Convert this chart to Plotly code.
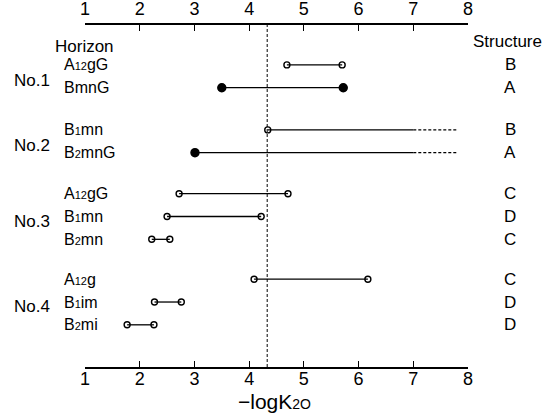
import plotly.graph_objects as go

# Profiles (No.1 - No.4), horizons, range of -logK2O, and soil structure class
profiles = ["No.1", "No.2", "No.3", "No.4"]
horizons = [
    ["A<span style='font-size:11px'>12</span>gG", "BmnG"],
    ["B<span style='font-size:11px'>1</span>mn", "B<span style='font-size:11px'>2</span>mnG"],
    ["A<span style='font-size:11px'>12</span>gG", "B<span style='font-size:11px'>1</span>mn",
     "B<span style='font-size:11px'>2</span>mn"],
    ["A<span style='font-size:11px'>12</span>g", "B<span style='font-size:11px'>1</span>im",
     "B<span style='font-size:11px'>2</span>mi"],
]
low_values = [[4.69, 3.50], [4.34, 3.01], [2.72, 2.50, 2.22], [4.09, 2.27, 1.77]]
high_values = [[5.70, 5.72], [7.8, 7.8], [4.71, 4.22, 2.55], [6.17, 2.76, 2.26]]
# True where the upper end was not reached (open-ended range)
open_ended = [[False, False], [True, True], [False, False, False], [False, False, False]]
low_filled = [[False, True], [False, True], [False, False, False], [False, False, False]]
high_filled = [[False, True], [False, False], [False, False, False], [False, False, False]]
structure = [["B", "A"], ["B", "A"], ["C", "D", "C"], ["C", "D", "D"]]
threshold = 4.33
open_limit = 7.0

x_ticks = [1, 2, 3, 4, 5, 6, 7, 8]

# vertical layout of each profile block (row units, top = 0)
group_top = [1.75, 4.6, 7.4, 11.15]

fig = go.Figure()
annotations = []
FONT = "Liberation Sans, Arial, sans-serif"

for g, name in enumerate(profiles):
    ys = [group_top[g] + i for i in range(len(horizons[g]))]
    for i, y in enumerate(ys):
        lo, hi = low_values[g][i], high_values[g][i]
        if open_ended[g][i]:
            fig.add_trace(go.Scatter(x=[lo, open_limit], y=[y, y], mode="lines",
                                     line=dict(color="black", width=1.3), showlegend=False))
            fig.add_trace(go.Scatter(x=[open_limit, hi], y=[y, y], mode="lines",
                                     line=dict(color="black", width=1.3, dash="3px,2px"),
                                     showlegend=False))
            ends = [(lo, low_filled[g][i])]
        else:
            fig.add_trace(go.Scatter(x=[lo, hi], y=[y, y], mode="lines",
                                     line=dict(color="black", width=1.3), showlegend=False))
            ends = [(lo, low_filled[g][i]), (hi, high_filled[g][i])]
        for xv, filled in ends:
            fig.add_trace(go.Scatter(
                x=[xv], y=[y], mode="markers", showlegend=False,
                marker=dict(symbol="circle" if filled else "circle-open",
                            size=8 if filled else 6, color="black",
                            line=dict(color="black", width=1.4))))
        annotations.append(dict(x=62, y=y, xref="x domain", yref="y",
                                text=horizons[g][i], showarrow=False, xanchor="left",
                                yanchor="middle", font=dict(size=16, family=FONT, color="black")))
        annotations.append(dict(x=510, y=y, xref="x domain", yref="y",
                                text=structure[g][i], showarrow=False, xanchor="center",
                                yanchor="middle", font=dict(size=17, family=FONT, color="black")))
    mid = sum(ys) / len(ys) + 0.2
    annotations.append(dict(x=12, y=mid, xref="x domain", yref="y", text=name,
                            showarrow=False, xanchor="left", yanchor="middle",
                            font=dict(size=17, family=FONT, color="black")))

# annotation x positions above are given in pixels; convert to domain fractions
L, R = 85, 90
W = 558 - L - R
for a in annotations:
    a["x"] = (a["x"] - L) / W

annotations.append(dict(x=(53 - L) / W, y=0.95, xref="x domain", yref="y", text="Horizon",
                        showarrow=False, xanchor="left", yanchor="middle",
                        font=dict(size=17, family=FONT, color="black")))
annotations.append(dict(x=(507 - L) / W, y=0.72, xref="x domain", yref="y", text="Structure",
                        showarrow=False, xanchor="center", yanchor="middle",
                        font=dict(size=17, family=FONT, color="black")))
annotations.append(dict(x=(274 - L) / W, y=401, xref="x domain", yref="paper", yanchor="middle",
                        text="−logK<span style='font-size:14px'>2O</span>",
                        showarrow=False, xanchor="center",
                        font=dict(size=21, family=FONT, color="black")))

# invisible trace so the top axis is drawn
fig.add_trace(go.Scatter(x=[1, 8], y=[0, 0], xaxis="x2", mode="markers",
                         marker=dict(opacity=0), showlegend=False, hoverinfo="skip"))

fig.add_shape(type="line", x0=threshold, x1=threshold, y0=0, y1=1, xref="x", yref="paper",
              line=dict(color="black", width=1, dash="3px,2px"))

axis_common = dict(range=[1, 8], tickvals=x_ticks, ticktext=[str(t) for t in x_ticks],
                   showline=True, linecolor="black", linewidth=1.6, ticks="inside",
                   ticklen=6, tickwidth=1.4, tickcolor="black", showgrid=False,
                   zeroline=False, automargin=False,
                   tickfont=dict(size=18, family=FONT, color="black"))

fig.update_layout(
    width=558, height=415,
    margin=dict(l=L, r=R, t=25, b=48),
    paper_bgcolor="white", plot_bgcolor="white",
    xaxis=dict(**axis_common, side="bottom", ticklabelstandoff=-5),
    xaxis2=dict(**axis_common, side="top", overlaying="x", matches="x", ticklabelstandoff=1),
    yaxis=dict(range=[15, 0], visible=False),
    annotations=annotations,
)

# paper-referenced title position given in pixels from the top
for a in fig.layout.annotations:
    if a.yref == "paper":
        a.y = 1 - (a.y - 25) / (415 - 25 - 48)
        a.yanchor = "middle"

fig.write_html("out.html")
